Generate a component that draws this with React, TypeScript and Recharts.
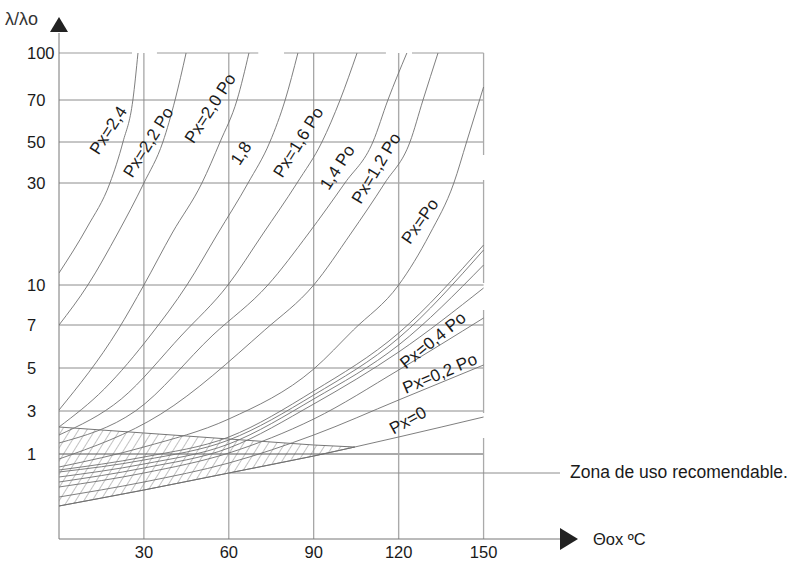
import React from 'react';
import {
  ComposedChart,
  Line,
  Area,
  XAxis,
  YAxis,
  ReferenceLine,
  ReferenceDot,
} from 'recharts';

// eje x: temperatura θox (ºC)
const X_TICKS = [30, 60, 90, 120, 150];

// eje y: la escala no es lineal, cada valor tiene su posición en el gráfico
const Y_POS = [85, 128, 171, 214, 254, 356, 397, 439, 486];
const Y_LABELS = ['1', '3', '5', '7', '10', '30', '50', '70', '100'];

// tramos de la línea 100 y de la vertical 150 (el dibujo original tiene cortes)
const TOP_SEGMENTS = [[0, 25.8], [34.6, 70.4], [79.5, 115.5], [124.7, 150]];
const RIGHT_SEGMENTS = [[384, 486], [256, 359], [126, 229], [0, 101]];

// curvas λ/λo para cada Px  -> [θox, posición]
const PX_24 = [[0, 266], [10, 312], [18, 356], [22.6, 397], [26.1, 439], [27.9, 486]];
const PX_22 = [[0, 214], [10.2, 254], [20.8, 306], [30, 356], [36.7, 397], [41, 439], [44.9, 486]];
const PX_20 = [[0, 129], [20.8, 209], [30, 254], [40, 306], [50.5, 356], [56.9, 397], [62.9, 439], [67.1, 486]];
const PX_18 = [[0, 112], [16, 150], [32.4, 204], [45.2, 254], [56, 305], [66.8, 356], [74.5, 397], [79.9, 439], [84.4, 486]];
const PX_16 = [[0, 104], [22, 140], [43.4, 204], [59.7, 254], [72, 305], [84.1, 356], [92.9, 397], [99.3, 439], [105.3, 486]];
const PX_14 = [[0, 96], [27, 128], [54.4, 204], [73.8, 254], [88, 305], [101, 356], [110.9, 397], [116.2, 439], [122.9, 486]];
const PX_12 = [[0, 80], [36, 125], [72.7, 209], [90, 254], [103, 305], [115.1, 356], [124, 397], [128.6, 439], [133.9, 486]];
const PX_10 = [[0, 72], [30, 92], [60, 120], [90, 170], [104, 209], [120, 254], [131, 305], [139.5, 356], [144, 397], [147.6, 430], [150, 452]];
const PX_08A = [[0, 69], [30, 82], [60, 102], [90, 148], [120, 206], [150, 294]];
const PX_08B = [[0, 67], [30, 79], [60, 99], [90, 144], [120, 201], [150, 289]];
const PX_06A = [[0, 62], [30, 75], [60, 95], [90, 140], [120, 194], [150, 274]];
const PX_06B = [[0, 57], [30, 71], [60, 91], [90, 135], [120, 187], [150, 251]];
const PX_04 = [[0, 52], [30, 66], [60, 86], [90, 120], [120, 169], [150, 221]];
const PX_02 = [[0, 42], [30, 57], [60, 76], [90, 104], [120, 139], [150, 174]];
const PX_00 = [[0, 33], [30, 49], [60, 66], [90, 83], [104.5, 92], [120, 102], [150, 122]];

const CURVES = [PX_24, PX_22, PX_20, PX_18, PX_16, PX_14, PX_12, PX_10, PX_08A, PX_08B, PX_06A, PX_06B, PX_04, PX_02, PX_00];

// zona rayada (uso recomendable)
const ZONE_X = [0, 30, 60, 90, 104.5];
const ZONE_LOW = [33, 49, 66, 83, 92];
const ZONE_HIGH = [112, 106, 100, 94, 92];
const ZONE_LEADER = 66;

// rótulos de las curvas: texto, θox, posición, ángulo
const LABELS: [string, number, number, number][] = [
  ['Px=2,4', 17.3, 409, -57],
  ['Px=2,2 Po', 31.4, 397, -58],
  ['Px=2,0 Po', 53.3, 431, -57],
  ['1,8', 64.2, 386, -57],
  ['Px=1,6 Po', 84.4, 397, -58],
  ['1,4 Po', 98.2, 372, -57],
  ['Px=1,2 Po', 111.9, 371, -59],
  ['Px=Po', 127.4, 318, -55],
  ['Px=0,4 Po', 132, 199, -39],
  ['Px=0,2 Po', 134.5, 166, -23],
  ['Px=0', 123.2, 119, -29],
];

const FONT = '"Liberation Sans", Arial, Helvetica, sans-serif';
const GRID = '#8c8c8c';
const CURVE = '#707070';

const toPoints = (pts: number[][]) => pts.map(([x, p]) => ({ x, p }));

const zoneData = ZONE_X.map((x, i) => ({ x, range: [ZONE_LOW[i], ZONE_HIGH[i]] }));

function YTick({ y, payload }: any) {
  const i = Y_POS.indexOf(payload.value);
  return (
    <text x={27} y={y} dy="0.36em" fontSize={16.5} fill="#1a1a1a" fontFamily={FONT}>
      {Y_LABELS[i]}
    </text>
  );
}

function XTick({ x, payload }: any) {
  return (
    <text x={x} y={552} dy="0.36em" textAnchor="middle" fontSize={16.5} fill="#1a1a1a" fontFamily={FONT}>
      {payload.value}
    </text>
  );
}

function RotatedLabel(text: string, angle: number) {
  return (props: any) => (
    <text
      x={props.cx}
      y={props.cy}
      dy="0.36em"
      textAnchor="middle"
      fontSize={17}
      fill="#1a1a1a"
      fontFamily={FONT}
      transform={`rotate(${angle} ${props.cx} ${props.cy})`}
    >
      {text}
    </text>
  );
}

export default function App() {
  return (
    <div style={{ position: 'absolute', left: 0, top: 0, width: 792, height: 562, background: '#fff' }}>
      <ComposedChart
        width={792}
        height={562}
        margin={{ top: 33, right: 232, bottom: 0, left: 0 }}
      >
        <defs>
          <pattern id="hatch" patternUnits="userSpaceOnUse" width="7" height="7" patternTransform="rotate(32)">
            <line x1="0" y1="0" x2="0" y2="7" stroke="#666" strokeWidth="0.8" />
          </pattern>
        </defs>
        <XAxis
          type="number"
          dataKey="x"
          domain={[0, 177]}
          ticks={X_TICKS}
          height={23}
          axisLine={{ stroke: '#777' }}
          tickLine={false}
          tick={<XTick />}
          allowDataOverflow
        />
        <YAxis
          type="number"
          domain={[0, 506]}
          ticks={Y_POS}
          width={59}
          axisLine={{ stroke: '#777' }}
          tickLine={false}
          tick={<YTick />}
          allowDataOverflow
        />

        {/* rejilla horizontal */}
        {Y_POS.slice(0, -1).map((p) => (
          <ReferenceLine
            key={`h${p}`}
            segment={[{ x: 0, y: p }, { x: 150, y: p }]}
            stroke={p === 85 ? '#555' : GRID}
            strokeWidth={1}
          />
        ))}
        {TOP_SEGMENTS.map(([a, b]) => (
          <ReferenceLine
            key={`t${a}`}
            segment={[{ x: a, y: 486 }, { x: b, y: 486 }]}
            stroke="#bdbdbd"
            strokeWidth={1.6}
          />
        ))}

        {/* rejilla vertical */}
        {X_TICKS.slice(0, -1).map((v) => (
          <ReferenceLine
            key={`v${v}`}
            segment={[{ x: v, y: 0 }, { x: v, y: 486 }]}
            stroke={v === 120 ? '#aaa' : GRID}
            strokeWidth={v === 120 ? 1.4 : 1}
          />
        ))}
        {RIGHT_SEGMENTS.map(([a, b]) => (
          <ReferenceLine
            key={`r${a}`}
            segment={[{ x: 150, y: a }, { x: 150, y: b }]}
            stroke="#aaa"
            strokeWidth={1.3}
          />
        ))}

        {/* zona de uso recomendable */}
        <Area
          data={zoneData}
          dataKey="range"
          type="linear"
          fill="url(#hatch)"
          fillOpacity={1}
          stroke="#666"
          strokeWidth={0.9}
          isAnimationActive={false}
          dot={false}
          activeDot={false}
        />
        <ReferenceLine
          segment={[{ x: 60, y: ZONE_LEADER }, { x: 177, y: ZONE_LEADER }]}
          stroke={GRID}
          strokeWidth={1}
        />

        {CURVES.map((c, i) => (
          <Line
            key={`c${i}`}
            data={toPoints(c)}
            dataKey="p"
            type="monotone"
            stroke={CURVE}
            strokeWidth={0.9}
            dot={false}
            activeDot={false}
            isAnimationActive={false}
          />
        ))}

        {LABELS.map(([t, x, p, a]) => (
          <ReferenceDot key={t} x={x} y={p} r={0} shape={RotatedLabel(t, a)} />
        ))}
      </ComposedChart>

      <svg
        width={792}
        height={562}
        style={{ position: 'absolute', left: 0, top: 0, pointerEvents: 'none' }}
      >
        <text x={5} y={25} fontSize={18} fill="#333" fontFamily={FONT}>
          λ/λo
        </text>
        <polygon points="59,17 50,32 68,32" fill="#222" />
        <polygon points="560,528 560,550 578,539" fill="#222" />
        <text x={593} y={545} fontSize={16.5} fill="#1a1a1a" fontFamily={FONT}>
          Θox ºC
        </text>
        <text x={570} y={478} fontSize={17.5} fill="#1a1a1a" fontFamily={FONT}>
          Zona de uso recomendable.
        </text>
      </svg>
    </div>
  );
}
